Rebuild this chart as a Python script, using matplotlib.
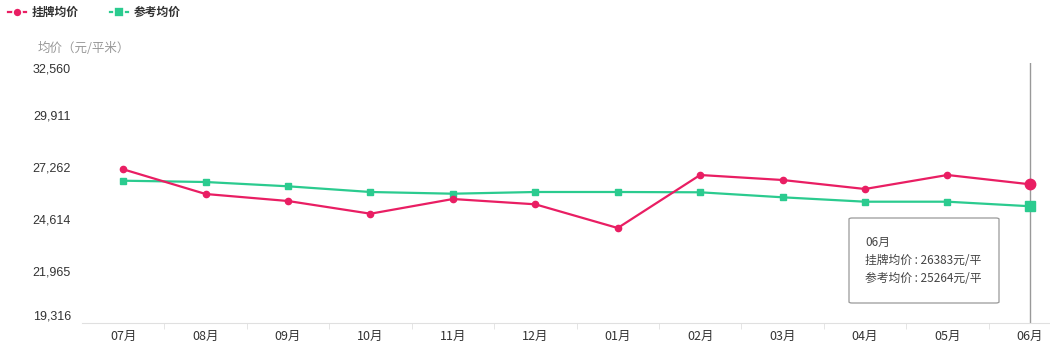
import matplotlib
matplotlib.use('Agg')
import matplotlib.pyplot as plt
from matplotlib.lines import Line2D
from matplotlib.patches import FancyBboxPatch
import numpy as np

plt.rcParams['font.family'] = ['Noto Sans CJK SC', 'DejaVu Sans']

months = ['07月', '08月', '09月', '10月', '11月', '12月', '01月', '02月', '03月', '04月', '05月', '06月']
listing_price = [27145, 25887, 25530, 24883, 25632, 25362, 24155, 26855, 26600, 26142, 26855, 26383]
reference_price = [26564, 26498, 26279, 25989, 25902, 25989, 25989, 25974, 25719, 25495, 25495, 25264]
y_ticks = [19316, 21965, 24614, 27262, 29911, 32560]
series_names = ['挂牌均价', '参考均价']
y_title = '均价（元/平米）'

PINK = '#e91e63'
GREEN = '#2bcb8f'
W, H = 1050, 355


def fx(px):
    return px / W


def fy(py):
    return 1 - py / H


fig = plt.figure(figsize=(W / 100, H / 100), dpi=100)
ax = fig.add_axes([fx(82), fy(323), fx(1071) - fx(82), fy(63) - fy(323)])

x = np.arange(len(months))
ax.plot(x, listing_price, color=PINK, lw=1.6, marker='o', ms=4.5, zorder=3)
ax.plot(x, reference_price, color=GREEN, lw=1.6, marker='s', ms=4.8, zorder=2)
# hovered point is drawn larger
ax.plot(x[-1], listing_price[-1], color=PINK, marker='o', ms=7.5, zorder=4)
ax.plot(x[-1], reference_price[-1], color=GREEN, marker='s', ms=7.5, zorder=4)

ax.set_xlim(-0.5, len(months) - 0.5)
ax.set_ylim(y_ticks[0], y_ticks[-1])

# hover pointer line
ax.axvline(x[-1], color='#999999', lw=1, zorder=1)

for s in ['top', 'right', 'left']:
    ax.spines[s].set_visible(False)
ax.spines['bottom'].set_color('#e0e0e0')

ax.set_xticks(x)
ax.set_xticklabels(months, fontsize=9, color='#333333')
ax.tick_params(axis='x', length=0, pad=5)
ax.set_xticks(np.arange(len(months)) + 0.5, minor=True)
ax.tick_params(axis='x', which='minor', length=4, color='#e0e0e0')

ax.set_yticks(y_ticks)
ax.set_yticklabels([f'{v:,}' for v in y_ticks], fontsize=9, color='#333333',
                   family=['Liberation Sans', 'Noto Sans CJK SC'])
ax.tick_params(axis='y', length=0, pad=8)
labels = ax.get_yticklabels()
labels[0].set_va('bottom')
labels[-1].set_va('top')

# axis title
fig.text(fx(38), fy(48), y_title, fontsize=9, color='#999999', va='center', ha='left')

# legend
legend_items = [(8, series_names[0], PINK, 'o'), (110, series_names[1], GREEN, 's')]
for lx, name, col, mk in legend_items:
    fig.add_artist(Line2D([fx(lx), fx(lx + 18)], [fy(12), fy(12)], color=col, lw=1.6,
                          transform=fig.transFigure))
    fig.add_artist(Line2D([fx(lx + 9)], [fy(12)], color=col, marker=mk, ms=6.5,
                          mec='white', mew=1.2, transform=fig.transFigure))
    fig.text(fx(lx + 24), fy(12), name, fontsize=8.5, color='#333333',
             fontweight='bold', va='center', ha='left')

# tooltip
box = FancyBboxPatch((fx(849), fy(303)), fx(150), fy(218) - fy(303),
                     boxstyle='round,pad=0,rounding_size=0.003',
                     transform=fig.transFigure, facecolor='white',
                     edgecolor='#999999', lw=0.9, zorder=10)
fig.add_artist(box)
tip_lines = [months[-1],
             f'{series_names[0]} : {listing_price[-1]}元/平',
             f'{series_names[1]} : {reference_price[-1]}元/平']
for i, t in enumerate(tip_lines):
    fig.text(fx(865), fy(242 + 18 * i), t, fontsize=8.5, color='#444444',
             va='center', ha='left', zorder=11)

fig.savefig('out.png', dpi=100)
